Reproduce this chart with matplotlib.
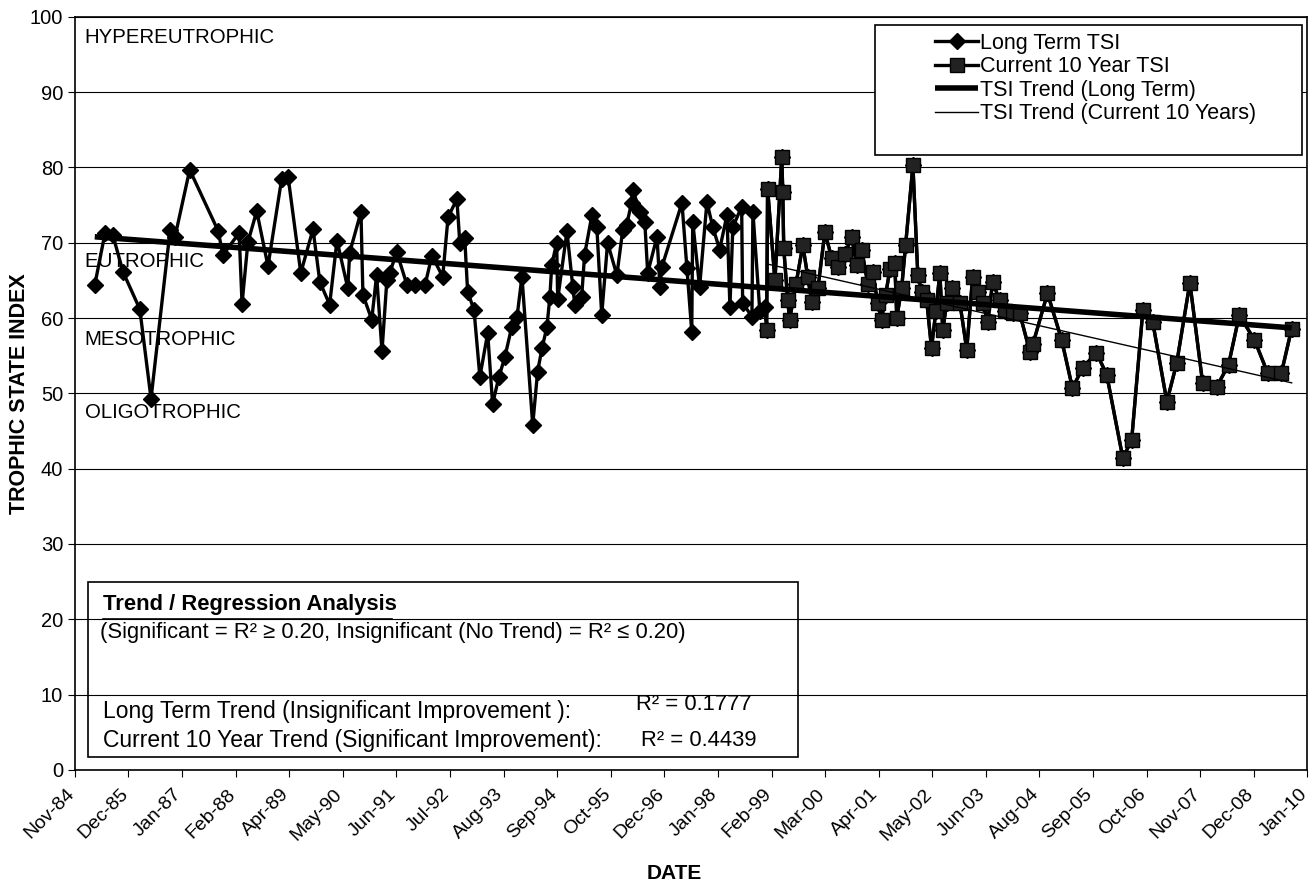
import matplotlib
matplotlib.use("Agg")
import matplotlib.pyplot as plt
import matplotlib.transforms as mtransforms
from matplotlib.patches import Rectangle
from datetime import datetime, timedelta

plt.rcParams['font.family'] = ['Liberation Sans', 'DejaVu Sans']

# sampling dates (decimal years) and TSI, whole record up to 1998
long_years = [1985.28, 1985.49, 1985.65, 1985.86, 1986.20, 1986.43, 1986.82, 1986.92, 1987.22, 1987.80,
              1987.90, 1988.23, 1988.29, 1988.41, 1988.59, 1988.82, 1989.10, 1989.23, 1989.49, 1989.74,
              1989.88, 1990.08, 1990.23, 1990.45, 1990.49, 1990.72, 1990.76, 1990.94, 1991.04, 1991.15,
              1991.25, 1991.31, 1991.45, 1991.66, 1991.82, 1992.03, 1992.17, 1992.39, 1992.50, 1992.68,
              1992.74, 1992.84, 1992.90, 1993.03, 1993.15, 1993.31, 1993.41, 1993.54, 1993.66, 1993.80,
              1993.91, 1994.01, 1994.23, 1994.33, 1994.42, 1994.52, 1994.58, 1994.62, 1994.72, 1994.74,
              1994.93, 1995.05, 1995.09, 1995.23, 1995.29, 1995.44, 1995.54, 1995.64, 1995.76, 1995.95,
              1996.07, 1996.15, 1996.25, 1996.28, 1996.42, 1996.52, 1996.58, 1996.77, 1996.83, 1996.87,
              1997.28, 1997.38, 1997.48, 1997.50, 1997.64, 1997.79, 1997.91, 1998.05, 1998.20, 1998.26,
              1998.32, 1998.50, 1998.52, 1998.71, 1998.73, 1998.87, 1998.97]
long_tsi = [64.4, 71.3, 71.0, 66.1, 61.2, 49.3, 71.7, 70.8, 79.7, 71.6,
            68.4, 71.3, 61.9, 70.1, 74.2, 66.9, 78.5, 78.8, 66.0, 71.8,
            64.8, 61.8, 70.3, 64.0, 68.7, 74.1, 63.1, 59.8, 65.7, 55.6,
            65.1, 66.0, 68.8, 64.4, 64.4, 64.4, 68.3, 65.5, 73.4, 75.8,
            70.0, 70.7, 63.5, 61.1, 52.2, 58.0, 48.6, 52.2, 54.8, 58.8,
            60.2, 65.5, 45.8, 52.9, 56.0, 58.8, 62.8, 67.1, 70.0, 62.5,
            71.5, 64.1, 61.8, 62.8, 68.4, 73.7, 72.1, 60.4, 70.0, 65.7,
            71.7, 72.4, 75.3, 77.0, 74.1, 72.8, 66.0, 70.8, 64.1, 66.8,
            75.3, 66.7, 58.2, 72.8, 64.1, 75.4, 72.1, 69.1, 73.7, 61.5,
            72.1, 74.8, 62.0, 60.2, 74.1, 61.0, 61.5]

# current 10 year record
recent_years = [1999.01, 1999.03, 1999.18, 1999.32, 1999.34, 1999.36, 1999.44, 1999.48, 1999.61, 1999.75,
                1999.85, 1999.93, 2000.06, 2000.20, 2000.34, 2000.46, 2000.61, 2000.75, 2000.85, 2000.95,
                2001.08, 2001.18, 2001.28, 2001.36, 2001.44, 2001.53, 2001.63, 2001.67, 2001.77, 2001.85,
                2002.00, 2002.10, 2002.18, 2002.28, 2002.38, 2002.47, 2002.55, 2002.61, 2002.69, 2002.79,
                2002.96, 2003.10, 2003.22, 2003.32, 2003.43, 2003.53, 2003.63, 2003.77, 2003.88, 2004.04,
                2004.18, 2004.39, 2004.45, 2004.75, 2005.04, 2005.26, 2005.47, 2005.75, 2005.96, 2006.29,
                2006.47, 2006.70, 2006.90, 2007.19, 2007.39, 2007.66, 2007.92, 2008.21, 2008.45, 2008.67,
                2008.98, 2009.25, 2009.53, 2009.74]
recent_tsi = [58.4, 77.2, 65.0, 81.4, 76.8, 69.3, 62.4, 59.8, 64.5, 69.7,
              65.5, 62.2, 64.0, 71.4, 68.0, 66.8, 68.5, 70.8, 67.0, 69.1,
              64.5, 66.1, 62.0, 59.8, 63.0, 66.5, 67.3, 60.0, 64.0, 69.7,
              80.3, 65.7, 63.5, 62.4, 56.0, 61.0, 66.0, 58.4, 62.0, 64.0,
              62.0, 55.8, 65.5, 63.5, 62.0, 59.5, 64.8, 62.4, 61.0, 60.7,
              60.7, 55.5, 56.5, 63.3, 57.1, 50.7, 53.4, 55.4, 52.5, 41.4,
              43.8, 61.1, 59.5, 48.9, 54.0, 64.7, 51.4, 50.9, 53.8, 60.4,
              57.1, 52.7, 52.7, 58.6]

# trend line endpoints
trend_long_years = [1985.28, 2009.74]
trend_long_tsi = [70.8, 58.7]
trend_recent_years = [1999.01, 2009.74]
trend_recent_tsi = [67.2, 51.4]

zones = ['HYPEREUTROPHIC', 'EUTROPHIC', 'MESOTROPHIC', 'OLIGOTROPHIC']
zone_y = [97.3, 67.5, 57.1, 47.5]

r2_long = 0.1777
r2_recent = 0.4439

fig = plt.figure(figsize=(13.14, 8.9), dpi=100)
ax = fig.add_axes([0.057, 0.135, 0.938, 0.846])

all_years = long_years + recent_years
all_tsi = long_tsi + recent_tsi
ax.plot(all_years, all_tsi, color='black', lw=2.4, marker='D', ms=8,
        label='Long Term TSI', zorder=3)
ax.plot(recent_years, recent_tsi, color='black', lw=2.4, marker='s', ms=10,
        mfc='#222222', label='Current 10 Year TSI', zorder=4)
ax.plot(trend_long_years, trend_long_tsi, color='black', lw=4, label='TSI Trend (Long Term)',
        solid_capstyle='butt', zorder=5)
ax.plot(trend_recent_years, trend_recent_tsi, color='black', lw=1,
        label='TSI Trend (Current 10 Years)', zorder=5)

# date axis: Excel style, 400 day major unit
start = datetime(1984, 11, 15)
tick_dates = [start + timedelta(days=400 * k) for k in range(24)]
tick_pos = [1984.874 + 400 * k / 365.25 for k in range(24)]
ax.set_xticks(tick_pos)
ax.set_xlim(tick_pos[0], tick_pos[-1])
ax.set_ylim(0, 100)
ax.set_yticks(range(0, 101, 10))
ax.tick_params(axis='y', labelsize=14.5, direction='out', length=5)
ax.tick_params(axis='x', direction='out', length=5)
ax.set_xticklabels([d.strftime('%b-%y') for d in tick_dates], rotation=45,
                   ha='right', va='top', rotation_mode='anchor', fontsize=14)
shift = mtransforms.ScaledTranslation(-9 / 100, -4 / 100, fig.dpi_scale_trans)
for lab in ax.get_xticklabels():
    lab.set_transform(lab.get_transform() + shift)

ax.yaxis.grid(True, color='black', lw=0.8)
ax.set_axisbelow(True)
for s in ax.spines.values():
    s.set_linewidth(1.2)

ax.set_ylabel('TROPHIC STATE INDEX', fontsize=15.5, fontweight='bold', labelpad=0)
ax.set_xlabel('DATE', fontsize=15, fontweight='bold')
ax.xaxis.set_label_coords(0.486, -0.125)

for name, yv in zip(zones, zone_y):
    ax.text(0.008, yv, name, transform=ax.get_yaxis_transform(), fontsize=14.7,
            va='center', ha='left', zorder=2)

# legend with a wide left margin like the original
ax.add_patch(Rectangle((0.649, 0.817), 0.347, 0.172, transform=ax.transAxes,
                       facecolor='white', edgecolor='black', lw=1.2, zorder=8))
leg = ax.legend(loc='upper left', bbox_to_anchor=(0.698, 0.979), fontsize=15.5,
                frameon=False, handlelength=2.0, handletextpad=0.1, borderpad=0,
                borderaxespad=0, labelspacing=0.12)
leg.set_zorder(9)

# regression analysis box
bfs = 15.8
ax.add_patch(Rectangle((0.0105, 0.017), 0.5765, 0.233, transform=ax.transAxes,
                       fill=False, edgecolor='black', lw=1.2, zorder=6))
ax.text(0.0227, 0.219, 'Trend / Regression Analysis', transform=ax.transAxes,
        fontsize=bfs, fontweight='bold', va='center', zorder=7)
ax.plot([0.0227, 0.257], [0.2005, 0.2005], transform=ax.transAxes, color='black',
        lw=1.2, zorder=7)
ax.text(0.0205, 0.183, '(Significant = R² ≥ 0.20, Insignificant (No Trend) = R² ≤ 0.20)',
        transform=ax.transAxes, fontsize=bfs, va='center', zorder=7)
ax.text(0.0227, 0.077, 'Long Term Trend (Insignificant Improvement ):',
        transform=ax.transAxes, fontsize=16.5, va='center', zorder=7)
ax.text(0.455, 0.087, 'R² = %.4f' % r2_long, transform=ax.transAxes, fontsize=bfs,
        va='center', zorder=7)
ax.text(0.0227, 0.0385, 'Current 10 Year Trend (Significant Improvement):',
        transform=ax.transAxes, fontsize=16.5, va='center', zorder=7)
ax.text(0.459, 0.0385, 'R² = %.4f' % r2_recent, transform=ax.transAxes, fontsize=bfs,
        va='center', zorder=7)

fig.savefig('out.png', dpi=100)
